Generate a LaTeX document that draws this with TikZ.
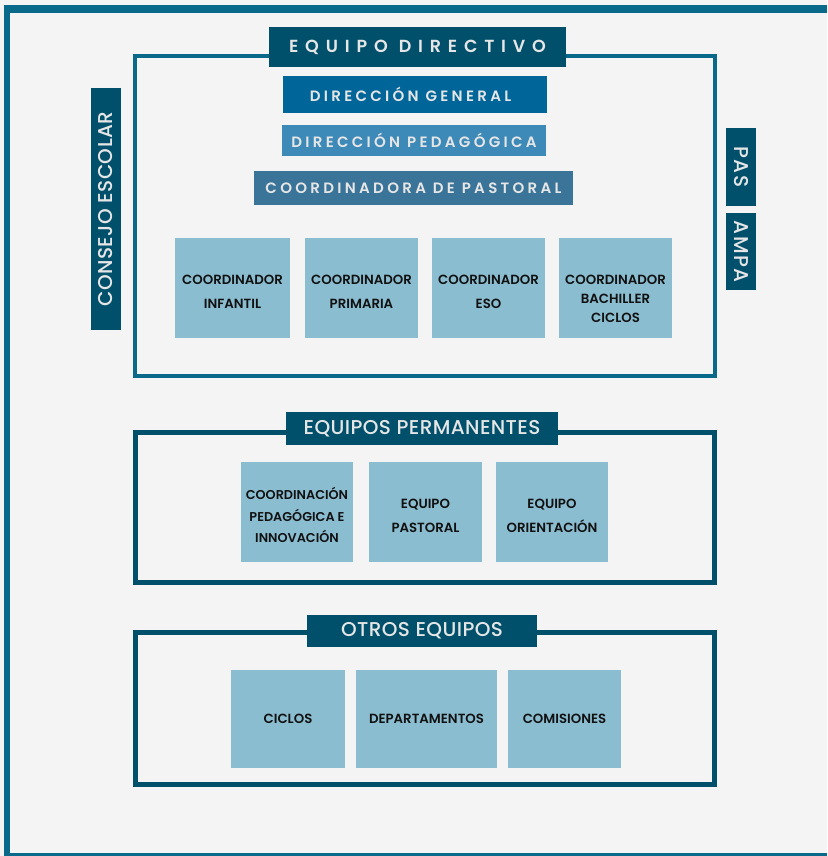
\documentclass[tikz,border=0pt]{standalone}
\usepackage{fontspec}
\setmainfont{Poppins}
\newfontfamily\semf{Poppins SemiBold}
\newfontfamily\titlef[LetterSpace=39]{Poppins SemiBold}
\newfontfamily\subf[LetterSpace=22]{Poppins SemiBold}
\newfontfamily\regf[LetterSpace=2]{Poppins Medium}
\newfontfamily\sidef[LetterSpace=7]{Poppins Medium}
\definecolor{bgc}{HTML}{F4F4F4}
\definecolor{outerc}{HTML}{08698A}
\definecolor{darkc}{HTML}{00506C}
\definecolor{dgc}{HTML}{006699}
\definecolor{dpc}{HTML}{3D89B8}
\definecolor{cpc}{HTML}{3A7498}
\definecolor{lightc}{HTML}{8BBDD0}
\definecolor{txtl}{HTML}{E6E6E6}
\definecolor{txtd}{HTML}{111111}
\tikzset{
  lbox/.style={preaction={fill=lightc, transform canvas={yshift=#1}}, inner sep=0pt, align=center, text=txtd, font=\semf\fontsize{13.3}{24}\selectfont},
  lbox/.default=0pt,
  tbox/.style={fill=darkc, inner sep=0pt, text=txtl},
  frame/.style={draw=darkc, line width=5pt},
}
\begin{document}
\begin{tikzpicture}[x=1pt,y=-1pt]
\useasboundingbox (0,0) rectangle (827,856);
\fill[bgc] (0,0) rectangle (827,856);
% outer frame
\fill[outerc] (4,5) rectangle (827,13.5);
\fill[outerc] (4,5) rectangle (9.5,856);
\fill[outerc] (4,852.5) rectangle (827,856);

% frames
\draw[outerc, line width=4pt] (135,56) rectangle (715,376);
\draw[frame] (135.5,432.5) rectangle (714.5,582.5);
\draw[frame] (135.5,632.5) rectangle (714.5,784.5);

% titles
\node[tbox, minimum width=297pt, minimum height=40pt, font=\titlef\fontsize{17.5}{20}\selectfont] (ed) at (417.5,47) {EQUIPO DIRECTIVO};
\node[tbox, fill=dgc, minimum width=264pt, minimum height=37pt, font=\subf\fontsize{15}{18}\selectfont] (dg) at (415,94.5) {DIRECCIÓN GENERAL\hspace*{9pt}};
\node[tbox, fill=dpc, minimum width=264pt, minimum height=31pt, font=\subf\fontsize{15}{18}\selectfont] (dp) at (414,140.5) {DIRECCIÓN PEDAGÓGICA};
\node[tbox, fill=cpc, minimum width=319pt, minimum height=34pt, font=\subf\fontsize{15}{18}\selectfont] (cp) at (413.5,188) {COORDINADORA DE PASTORAL};

\node[tbox, minimum width=272pt, minimum height=33pt, font=\regf\fontsize{20}{22}\selectfont] (ep) at (422,428.5) {EQUIPOS PERMANENTES};
\node[tbox, minimum width=230pt, minimum height=32pt, font=\regf\fontsize{20}{22}\selectfont] (oe) at (422,631) {OTROS EQUIPOS};

% side labels
\node[tbox, minimum width=242pt, minimum height=30pt, rotate=90, font=\regf\fontsize{20}{22}\selectfont] (ce) at (106,209) {CONSEJO ESCOLAR};
\node[tbox, minimum width=78pt, minimum height=30pt, rotate=-90, font=\sidef\fontsize{20}{22}\selectfont] (pas) at (741,167) {PAS};
\node[tbox, minimum width=77pt, minimum height=30pt, rotate=-90, font=\sidef\fontsize{20}{22}\selectfont] (ampa) at (741,251.5) {AMPA};

% coordinators
\node[lbox=4pt, minimum width=115pt, minimum height=100pt] (ci) at (232.5,292) {COORDINADOR\\INFANTIL};
\node[lbox=4pt, minimum width=113pt, minimum height=100pt] (cpr) at (361.5,292) {COORDINADOR\\PRIMARIA};
\node[lbox=4pt, minimum width=113pt, minimum height=100pt] (ceso) at (488.5,292) {COORDINADOR\\ESO};
\node[lbox=10.5pt, minimum width=113pt, minimum height=100pt, font=\semf\fontsize{13.3}{19}\selectfont] (cb) at (615.5,298.5) {COORDINADOR\\BACHILLER\\CICLOS};

% permanent teams
\node[lbox=3pt, minimum width=112pt, minimum height=100pt, font=\semf\fontsize{12.8}{21.5}\selectfont] (cpi) at (297,515) {COORDINACIÓN\\PEDAGÓGICA E\\INNOVACIÓN};
\node[lbox=4pt, minimum width=113pt, minimum height=100pt] (epa) at (425.5,516) {EQUIPO\\PASTORAL};
\node[lbox=4pt, minimum width=112pt, minimum height=100pt] (eor) at (552,516) {EQUIPO\\ORIENTACIÓN};

% other teams
\node[lbox, minimum width=114pt, minimum height=98pt] (ci2) at (288,719) {CICLOS};
\node[lbox, minimum width=141pt, minimum height=98pt] (dep) at (426.5,719) {DEPARTAMENTOS};
\node[lbox, minimum width=113pt, minimum height=98pt] (com) at (564.5,719) {COMISIONES};
\end{tikzpicture}
\end{document}
